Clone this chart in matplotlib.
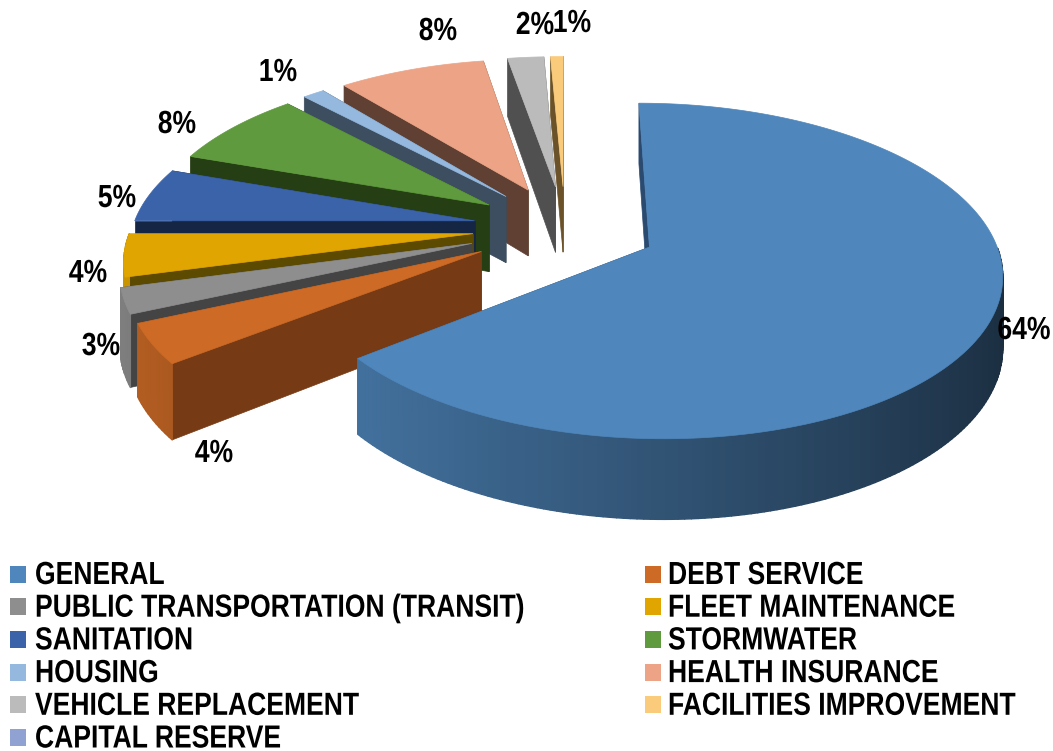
import numpy as np
import matplotlib
matplotlib.use('Agg')
import matplotlib.pyplot as plt
from matplotlib.collections import PolyCollection
from matplotlib.patches import Polygon, Rectangle
from matplotlib.patheffects import AbstractPathEffect
from matplotlib.text import Text
from matplotlib.transforms import Affine2D, Bbox
from matplotlib.colors import to_rgb

names = ['GENERAL', 'DEBT SERVICE', 'PUBLIC TRANSPORTATION (TRANSIT)', 'FLEET MAINTENANCE',
         'SANITATION', 'STORMWATER', 'HOUSING', 'HEALTH INSURANCE',
         'VEHICLE REPLACEMENT', 'FACILITIES IMPROVEMENT', 'CAPITAL RESERVE']
values = [64.4, 3.9, 2.5, 4.2, 5.4, 7.6, 1.2, 8.1, 2.0, 0.7, 0]
colors = ['#4f86bb', '#cc6a26', '#8e8e8e', '#e0a500', '#3b63aa', '#5f9a3e',
          '#95b8de', '#eca386', '#bbbbbb', '#fbcb7c', '#8fa2d2']
side_colors = ['#2a4a70', '#763a14', '#444444', '#5c4a00', '#152645', '#263e14',
               '#3c4e60', '#5f4032', '#505050', '#6b5228', '#4a5a80']
percent_labels = ['64%', '4%', '3%', '4%', '5%', '8%', '1%', '8%', '2%', '1%']
label_xy = [(1024, 329), (214, 452), (101, 345), (88, 272), (117, 197),
            (177, 123), (278, 71), (438, 30), (535, 24), (572, 22)]

# camera for the tilted pie, fitted to the picture
cx, cy = 565, 228
rx, ry = 342, 159
persp = 0.14
depth = 68
explode = [0.27, 0.28, 0.285, 0.27, 0.27, 0.27, 0.27, 0.27, 0.27, 0.27, 0.27]
squeeze = 0.83

plt.rcParams['font.family'] = ['Liberation Sans', 'DejaVu Sans']


def project(u, v, z=0.0):
    w = 1 + persp * v
    return cx + rx * u / w, cy - ry * v / w + depth * z / w


# no narrow bold font here, so squeeze the glyphs sideways around the anchor
class Squeeze(AbstractPathEffect):
    def __init__(self, artist):
        super().__init__()
        self.artist = artist

    def draw_path(self, renderer, gc, tpath, affine, rgbFace=None):
        x0 = self.artist.get_transform().transform(self.artist.get_position())[0]
        narrow = affine + Affine2D().translate(-x0, 0).scale(squeeze, 1).translate(x0, 0)
        renderer.draw_path(gc, tpath, narrow, rgbFace)


class NarrowText(Text):
    def __init__(self, *args, **kwargs):
        super().__init__(*args, **kwargs)
        self.set_path_effects([Squeeze(self)])

    def get_window_extent(self, renderer=None, dpi=None):
        bb = super().get_window_extent(renderer, dpi)
        x0 = self.get_transform().transform(self.get_position())[0]
        return Bbox([[x0 + (bb.x0 - x0) * squeeze, bb.y0], [x0 + (bb.x1 - x0) * squeeze, bb.y1]])


def put_text(x, y, txt, ha):
    ax.add_artist(NarrowText(x, y, txt, ha=ha, va='center', fontsize=23, fontweight='bold',
                             color='black', zorder=3, transform=ax.transData))


fig = plt.figure(figsize=(10.53, 7.51), dpi=100)
ax = fig.add_axes([0, 0, 1, 1])
ax.set_xlim(0, 1053)
ax.set_ylim(751, 0)
ax.axis('off')

# drawn from the end of the list backwards so near slices cover far ones
edges = np.cumsum([0] + values) / sum(values) * 2 * np.pi
order = [9, 8, 7, 6, 5, 4, 3, 2, 1, 0]

for i in order:
    a0, a1 = edges[i], edges[i + 1]
    mid = (a0 + a1) / 2
    ou, ov = explode[i] * np.sin(mid), explode[i] * np.cos(mid)
    th = np.linspace(a0, a1, max(4, int((a1 - a0) * 60)))
    us = ou + np.sin(th)
    vs = ov + np.cos(th)

    # radial walls
    for a in (a1, a0):
        eu, ev = ou + np.sin(a), ov + np.cos(a)
        wall = [project(ou, ov), project(eu, ev), project(eu, ev, 1), project(ou, ov, 1)]
        ax.add_patch(Polygon(wall, closed=True, fc=side_colors[i], ec=side_colors[i], lw=0.5, zorder=1))

    # rim, only the part facing the viewer, shaded from left to right
    quads, shades = [], []
    base = np.array(to_rgb(colors[i]))
    for j in range(len(th) - 1):
        m = (th[j] + th[j + 1]) / 2
        if np.cos(m) > 0:
            continue
        quads.append([project(us[j], vs[j]), project(us[j + 1], vs[j + 1]),
                      project(us[j + 1], vs[j + 1], 1), project(us[j], vs[j], 1)])
        shades.append(base * np.clip(0.62 - 0.28 * np.sin(m), 0.3, 1))
    if quads:
        ax.add_collection(PolyCollection(quads, facecolors=shades, edgecolors=shades, linewidths=1, zorder=1))

    # top face
    top = [project(ou, ov)] + [project(a, b) for a, b in zip(us, vs)]
    ax.add_patch(Polygon(top, closed=True, fc=colors[i], ec=colors[i], lw=0.5, zorder=1))

for txt, (x, y) in zip(percent_labels, label_xy):
    put_text(x, y + 2, txt, 'center')

# legend, two columns
for k, name in enumerate(names):
    row = k // 2
    col = k % 2
    y = 574 + row * 32.7
    x = 10 if col == 0 else 645
    ax.add_patch(Rectangle((x, y - 8.5), 16, 17, fc=colors[k], ec='none', zorder=3))
    put_text(x + 25 - col * 2, y + 2, name, 'left')

fig.savefig('out.png', dpi=100)
